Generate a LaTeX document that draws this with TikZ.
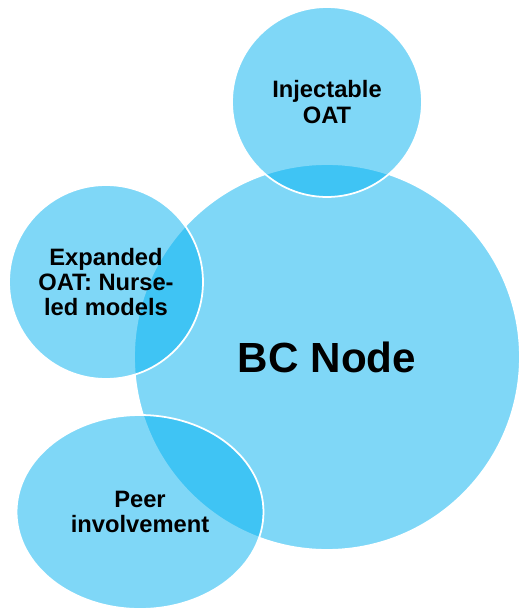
\documentclass[tikz,border=0pt]{standalone}
\usepackage{fontspec}
\setmainfont{Liberation Sans}
\usepackage{tikz}
\usetikzlibrary{shapes.geometric, positioning}
\usepackage{xcolor}
\definecolor{bubblecol}{RGB}{0,176,240}

\begin{document}
\begin{tikzpicture}[x=0.02cm, y=-0.02cm,
    bubble/.style={fill=bubblecol, fill opacity=0.5, text opacity=1,
      draw=white, line width=1pt, inner sep=0pt, align=center,
      font=\bfseries\fontsize{13.5}{14.5}\selectfont}]
          % frame of the picture (pixel units, y down)
          \useasboundingbox (0,0) rectangle (520,611);
          % the big centre bubble goes first, the others overlap it
          \node[bubble, circle, minimum size=7.72cm,
            font=\bfseries\fontsize{24}{26}\selectfont] (bc) at (327,357) {BC Node};
          % satellites
          \node[bubble, circle, minimum size=3.8cm] (inj) at (327,102) {Injectable\\OAT};
          \node[bubble, circle, minimum size=3.88cm] (exp) at (106,282) {Expanded\\OAT: Nurse-\\led models};
          \node[bubble, ellipse, minimum width=4.94cm, minimum height=3.88cm] (peer) at (140,512) {Peer\\involvement};
      \end{tikzpicture}
\end{document}
